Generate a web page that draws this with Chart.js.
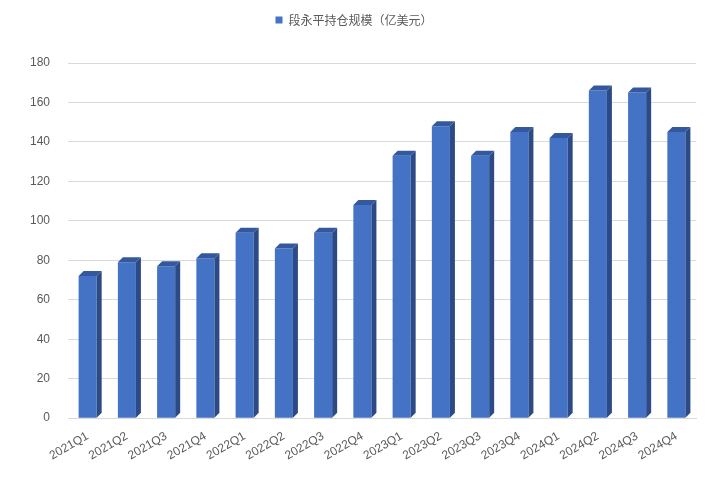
<!DOCTYPE html>
<html><head><meta charset="utf-8">
<script src="https://cdn.jsdelivr.net/npm/chart.js@4"></script>
<style>html,body{margin:0;background:#fff}#wrap{width:718px;height:480px}</style>
</head><body><div id="wrap"><canvas id="c"></canvas></div>
<script>
const categories = ['2021Q1','2021Q2','2021Q3','2021Q4','2022Q1','2022Q2','2022Q3','2022Q4','2023Q1','2023Q2','2023Q3','2023Q4','2024Q1','2024Q2','2024Q3','2024Q4'];
const holdings = [72,79,77,81,94,86,94,108,133,148,133,145,142,166,165,145];
const seriesName = '段永平持仓规模（亿美元）';

// fake 3D: dark side face + top face on each bar
const depth = {
    id: 'depth',
    afterDatasetsDraw(chart) {
        const ctx = chart.ctx, d = 5;
        chart.getDatasetMeta(0).data.forEach(b => {
            const l = b.x - b.width / 2, r = b.x + b.width / 2;
            ctx.fillStyle = '#2c4a86';
            ctx.beginPath();
            ctx.moveTo(r, b.y); ctx.lineTo(r + d, b.y - d); ctx.lineTo(r + d, b.base - d); ctx.lineTo(r, b.base);
            ctx.fill();
            ctx.fillStyle = '#34589e';
            ctx.beginPath();
            ctx.moveTo(l, b.y); ctx.lineTo(l + d, b.y - d); ctx.lineTo(r + d, b.y - d); ctx.lineTo(r, b.y);
            ctx.fill();
        });
    }
};

// extra space under the legend
const legendGap = {
    id: 'legendGap',
    beforeInit(chart) {
        const fit = chart.legend.fit;
        chart.legend.fit = function () { fit.bind(chart.legend)(); this.height += 27; };
    }
};

new Chart(document.getElementById('c'), {
    type: 'bar',
    data: { labels: categories, datasets: [{ label: seriesName, data: holdings, backgroundColor: '#4472c4', categoryPercentage: 0.46, barPercentage: 1 }] },
    plugins: [depth, legendGap],
    options: {
        responsive: true, maintainAspectRatio: false, animation: false,
        layout: { padding: { left: 12, right: 22, top: 4, bottom: 0 } },
        plugins: {
            legend: { labels: { boxWidth: 7, boxHeight: 7, color: '#595959', font: { size: 12, family: 'Noto Sans CJK SC' } } },
            tooltip: { enabled: false }
        },
        scales: {
            y: { min: 0, max: 180, ticks: { stepSize: 20, color: '#595959', font: { size: 12 }, padding: 18 },
                 grid: { color: '#d9d9d9', drawTicks: false }, border: { display: false } },
            x: { ticks: { color: '#595959', font: { size: 12 }, maxRotation: 30, minRotation: 30 },
                 grid: { display: false }, border: { color: '#d9d9d9' },
                 afterFit(s) { s.height += 14; } }
        }
    }
});
</script></body></html>
